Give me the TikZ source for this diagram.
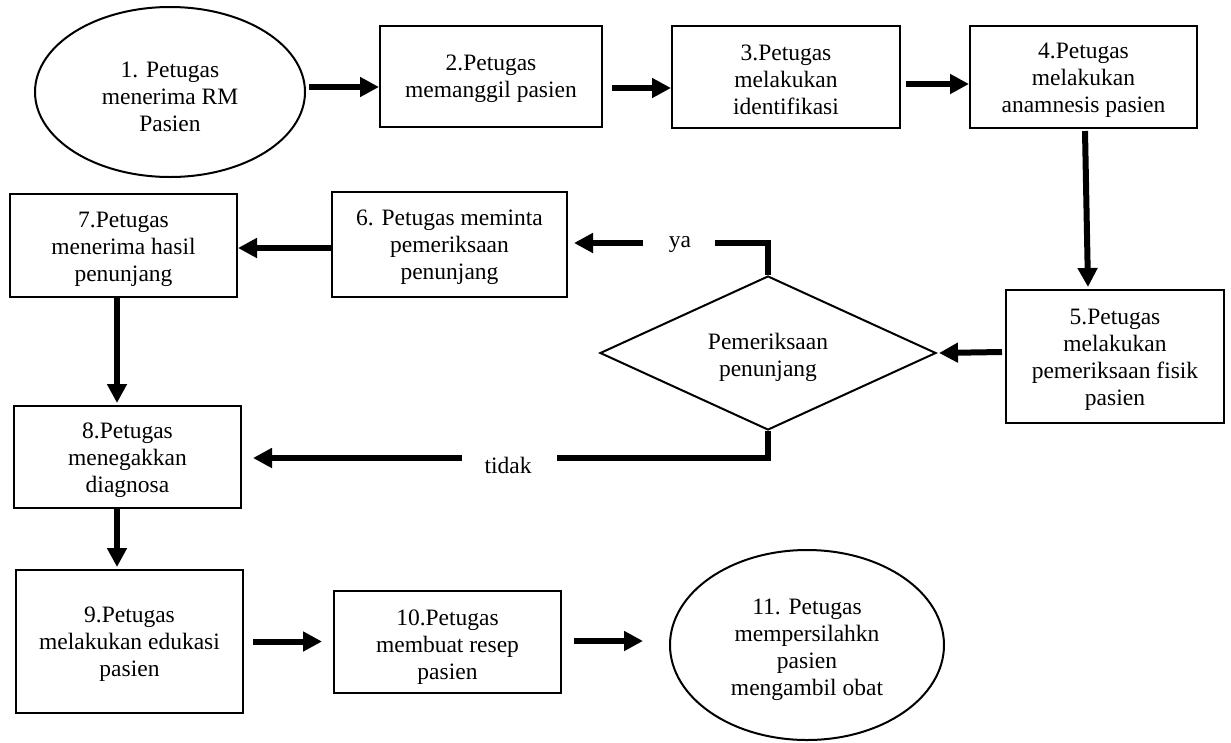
\documentclass[tikz,border=0pt]{standalone}
\usepackage{fontspec}
\setmainfont{Liberation Serif}
\usetikzlibrary{shapes.geometric,arrows.meta,calc}
\begin{document}
\begin{tikzpicture}[x=1pt,y=-1pt,
  font=\fontsize{23.5}{27}\selectfont,
  stepbox/.style={draw,line width=2pt,rectangle,inner sep=0pt},
  oval/.style={draw,line width=2pt,ellipse,inner sep=0pt},
  decision/.style={draw,line width=2pt,diamond,inner sep=0pt},
  caption/.style={align=center,inner sep=0pt},
  flow/.style={line width=6pt,-{Triangle[length=19pt,width=19pt]}},
  link/.style={line width=6pt},
]
\useasboundingbox (0,0) rectangle (1231,742);

% process steps (outlines)
\node[oval,minimum width=270pt,minimum height=170pt] (e1) at (170,92) {};
\node[stepbox,minimum width=222pt,minimum height=101pt] (b2) at (491,76.5) {};
\node[stepbox,minimum width=228pt,minimum height=102pt] (b3) at (786,77) {};
\node[stepbox,minimum width=227pt,minimum height=102pt] (b4) at (1083.5,77) {};
\node[stepbox,minimum width=218pt,minimum height=133pt] (b5) at (1115,356.5) {};
\node[decision,minimum width=336pt,minimum height=154pt] (d) at (768,353) {};
\node[stepbox,minimum width=235pt,minimum height=105pt] (b6) at (449.5,244.5) {};
\node[stepbox,minimum width=227pt,minimum height=103pt] (b7) at (123.5,245.5) {};
\node[stepbox,minimum width=227pt,minimum height=102pt] (b8) at (127.5,457) {};
\node[stepbox,minimum width=227pt,minimum height=143pt] (b9) at (129.5,641.5) {};
\node[stepbox,minimum width=227pt,minimum height=102pt] (b10) at (447.5,642) {};
\node[oval,minimum width=274pt,minimum height=190pt] (e11) at (807,645) {};

% step texts, set a little below the middle of each shape
\node[caption] (t1) at ([yshift=-4.5pt]e1.center) {1. Petugas\\menerima RM\\Pasien};
\node[caption] (t2) at ([yshift=-2pt]b2.center) {2.Petugas\\memanggil pasien};
\node[caption] (t3) at ([yshift=-3pt]b3.center) {3.Petugas\\melakukan\\identifikasi};
\node[caption] (t4) at ([yshift=-3pt]b4.center) {4.Petugas\\melakukan\\anamnesis pasien};
\node[caption] (t5) at ([yshift=-3pt]b5.center) {5.Petugas\\melakukan\\pemeriksaan fisik\\pasien};
\node[caption] (td) at ([yshift=-4pt]d.center) {Pemeriksaan\\penunjang};
\node[caption] (t6) at ([yshift=-3pt]b6.center) {6. Petugas meminta\\pemeriksaan\\penunjang};
\node[caption] (t7) at ([yshift=-4pt]b7.center) {7.Petugas\\menerima hasil\\penunjang};
\node[caption] (t8) at ([yshift=-3pt]b8.center) {8.Petugas\\menegakkan\\diagnosa};
\node[caption] (t9) at ([yshift=-3pt]b9.center) {9.Petugas\\melakukan edukasi\\pasien};
\node[caption] (t10) at ([yshift=-5pt]b10.center) {10.Petugas\\membuat resep\\pasien};
\node[caption] (t11) at ([yshift=-5pt]e11.center) {11. Petugas\\mempersilahkn\\pasien\\mengambil obat};

% branch labels and break points of the decision lines
\coordinate (yaR) at (715,243);
\coordinate (yaL) at (643,243);
\node (ya) at (680,245) {ya};
\coordinate (tdR) at (557,458);
\coordinate (tdL) at (462,458);
\node (tidak) at (508,465) {tidak};

% connectors
\draw[flow] ([xshift=3pt,yshift=5pt]e1.east) -- ([yshift=5pt]e1.east -| b2.west);
\draw[flow] ([xshift=9pt,yshift=-11.5pt]b2.east) -- ([yshift=-11.5pt]b2.east -| b3.west);
\draw[flow] ([xshift=5pt,yshift=-7pt]b3.east) -- ([yshift=-7pt]b3.east -| b4.west);
\draw[flow] ([xshift=1.5pt,yshift=-2pt]b4.south) -- ([xshift=-27pt,yshift=2pt]b5.north);
\draw[flow] ([xshift=-3pt,yshift=4.5pt]b5.west) -- ([xshift=2pt]d.east);
\draw[link] (d.north) |- (yaR);
\draw[flow] (yaL) -- ([xshift=6pt]yaL -| b6.east);
\draw[flow] ([yshift=-3.5pt]b6.west) -- ([yshift=-3.5pt]b6.west -| b7.east);
\draw[flow] ([xshift=-6.5pt]b7.south) -- ([xshift=-6.5pt,yshift=2pt]b7.south |- b8.north);
\draw[link] (d.south) |- (tdR);
\draw[flow] (tdL) -- ([xshift=11pt]tdL -| b8.east);
\draw[flow] ([xshift=-10.5pt]b8.south) -- ([xshift=-10.5pt,yshift=2pt]b8.south |- b9.north);
\draw[flow] ([xshift=9pt]b9.east) -- ([xshift=-11pt]b9.east -| b10.west);
\draw[flow] ([xshift=12pt,yshift=1pt]b10.east) -- ([xshift=-26pt,yshift=1pt]b10.east -| e11.west);
\end{tikzpicture}
\end{document}
